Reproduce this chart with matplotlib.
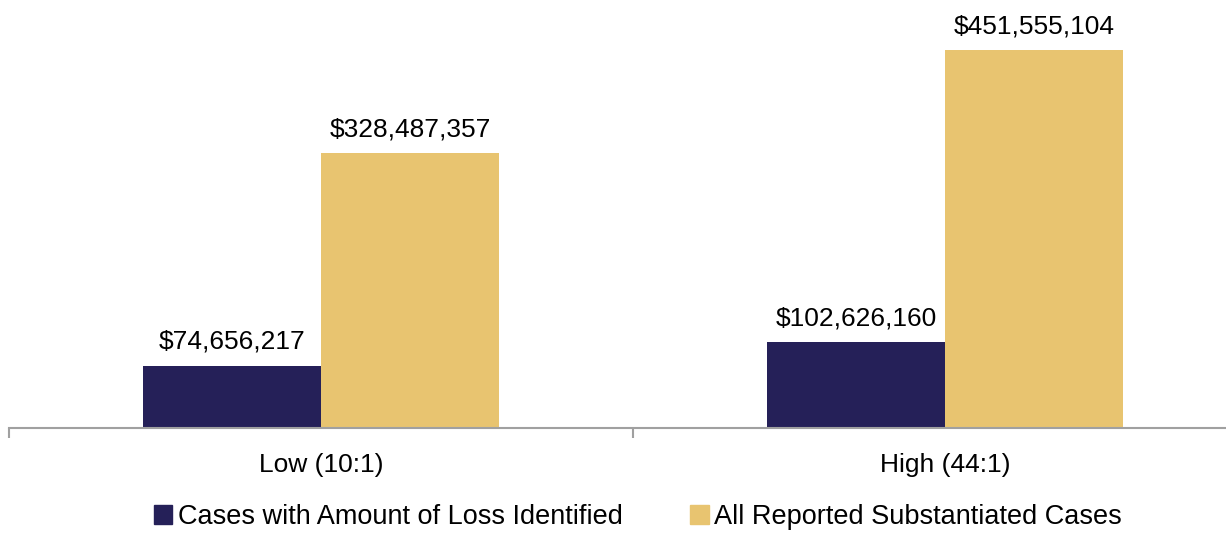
import matplotlib
matplotlib.use("Agg")
import matplotlib.pyplot as plt
from matplotlib.patches import Patch
import numpy as np

categories = ["Low (10:1)", "High (44:1)"]
series_names = ["Cases with Amount of Loss Identified", "All Reported Substantiated Cases"]
loss_identified = [74656217, 102626160]
all_substantiated = [328487357, 451555104]
colors = ["#252058", "#E8C470"]

plt.rcParams['font.family'] = ['Liberation Sans', 'DejaVu Sans']

W, H = 1226, 533
fig = plt.figure(figsize=(W / 100, H / 100), dpi=100)
ax = fig.add_axes([9 / W, (H - 428) / H, (W - 9) / W, 428 / H])

x = np.arange(len(categories))
bw = 0.285
b1 = ax.bar(x - bw / 2, loss_identified, bw, color=colors[0])
b2 = ax.bar(x + bw / 2, all_substantiated, bw, color=colors[1])

for bars, vals in ((b1, loss_identified), (b2, all_substantiated)):
    for r, v in zip(bars, vals):
        ax.annotate(f"${v:,.0f}", (r.get_x() + r.get_width() / 2, v),
                    xytext=(0, 12), textcoords="offset points",
                    ha="center", va="baseline", fontsize=19, color="black")

for s in ("top", "right", "left"):
    ax.spines[s].set_visible(False)
ax.spines["bottom"].set_color("#a0a0a0")
ax.spines["bottom"].set_linewidth(1.5)
ax.set_yticks([])
ax.set_xticks([-0.5, 0.5, 1.5])
ax.set_xticklabels([])
ax.set_xticks(x, minor=True)
ax.set_xticklabels(categories, minor=True, fontsize=19)
ax.tick_params(axis="x", which="major", length=7, width=1.5, color="#a0a0a0")
ax.tick_params(axis="x", which="minor", length=0, pad=18)

ax.set_xlim(-0.5, -0.5 + (W - 9) / 624)
ax.set_ylim(0, 451555104 * 428 / 378)

handles = [Patch(color=c) for c in colors]
fig.legend(handles, series_names, loc="center", bbox_to_anchor=(638 / W, 1 - 517 / H),
           ncol=2, frameon=False, fontsize=19.5, handlelength=0.68, handleheight=0.68,
           handletextpad=0.2, columnspacing=2.5)

fig.savefig("out.png", dpi=100)
